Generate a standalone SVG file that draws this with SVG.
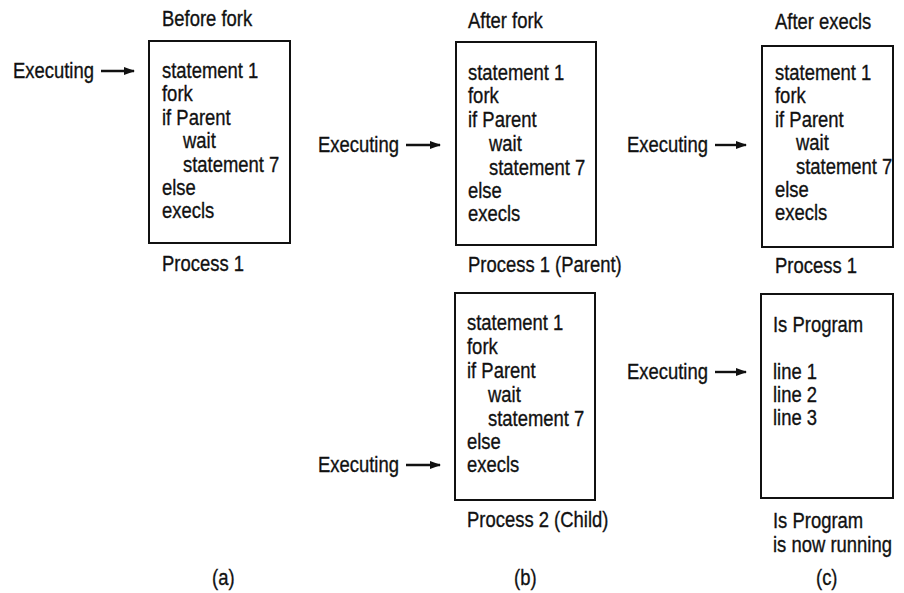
<svg xmlns="http://www.w3.org/2000/svg" width="904" height="593" viewBox="0 0 904 593">
<defs>
<style>
text{font-family:"Liberation Sans",Arial,sans-serif;font-size:22.5px;fill:#111;stroke:#111;stroke-width:0.35px;}
.box{fill:#fff;stroke:#111;stroke-width:2;}
.arr{stroke:#111;stroke-width:2.4;fill:none;}
</style>
<marker id="ah" viewBox="0 0 11 8" refX="10" refY="4" markerWidth="11" markerHeight="8" markerUnits="userSpaceOnUse" orient="auto">
<path d="M0,0 L11,4 L0,8 Z" fill="#111"/>
</marker>
</defs>
<rect width="904" height="593" fill="#fff"/>

<g id="proc-a">
<text transform="translate(162 26) scale(0.82 1)">Before fork</text>
<rect class="box" x="149" y="41" width="141" height="202"/>
<text transform="translate(162 78) scale(0.82 1)">statement 1</text>
<text transform="translate(162 101) scale(0.82 1)">fork</text>
<text transform="translate(162 125) scale(0.82 1)">if Parent</text>
<text transform="translate(183 148) scale(0.82 1)">wait</text>
<text transform="translate(183 172) scale(0.82 1)">statement 7</text>
<text transform="translate(162 195) scale(0.82 1)">else</text>
<text transform="translate(162 218) scale(0.82 1)">execls</text>
<text transform="translate(162 271) scale(0.82 1)">Process 1</text>
</g>

<g id="proc-b1">
<text transform="translate(468 28) scale(0.82 1)">After fork</text>
<rect class="box" x="456" y="42" width="140" height="203"/>
<text transform="translate(468 80) scale(0.82 1)">statement 1</text>
<text transform="translate(468 103) scale(0.82 1)">fork</text>
<text transform="translate(468 127) scale(0.82 1)">if Parent</text>
<text transform="translate(489 151) scale(0.82 1)">wait</text>
<text transform="translate(489 175) scale(0.82 1)">statement 7</text>
<text transform="translate(468 198) scale(0.82 1)">else</text>
<text transform="translate(468 221) scale(0.82 1)">execls</text>
<text transform="translate(468 272) scale(0.82 1)">Process 1 (Parent)</text>
</g>

<g id="proc-c1">
<text transform="translate(775 29) scale(0.82 1)">After execls</text>
<rect class="box" x="762" y="46" width="131" height="201"/>
<text transform="translate(775 80) scale(0.82 1)">statement 1</text>
<text transform="translate(775 103) scale(0.82 1)">fork</text>
<text transform="translate(775 127) scale(0.82 1)">if Parent</text>
<text transform="translate(796 150) scale(0.82 1)">wait</text>
<text transform="translate(796 174) scale(0.82 1)">statement 7</text>
<text transform="translate(775 197) scale(0.82 1)">else</text>
<text transform="translate(775 220) scale(0.82 1)">execls</text>
<text transform="translate(775 273) scale(0.82 1)">Process 1</text>
</g>

<g id="proc-b2">
<rect class="box" x="455" y="293" width="140" height="207"/>
<text transform="translate(467 330) scale(0.82 1)">statement 1</text>
<text transform="translate(467 354) scale(0.82 1)">fork</text>
<text transform="translate(467 378) scale(0.82 1)">if Parent</text>
<text transform="translate(488 402) scale(0.82 1)">wait</text>
<text transform="translate(488 426) scale(0.82 1)">statement 7</text>
<text transform="translate(467 449) scale(0.82 1)">else</text>
<text transform="translate(467 472) scale(0.82 1)">execls</text>
<text transform="translate(467 527) scale(0.82 1)">Process 2  (Child)</text>
</g>

<g id="proc-c2">
<rect class="box" x="761" y="294" width="132" height="204"/>
<text transform="translate(773 332) scale(0.82 1)">Is Program</text>
<text transform="translate(773 379) scale(0.82 1)">line 1</text>
<text transform="translate(773 402) scale(0.82 1)">line 2</text>
<text transform="translate(773 425) scale(0.82 1)">line 3</text>
<text transform="translate(773 528) scale(0.82 1)">Is Program</text>
<text transform="translate(773 552) scale(0.82 1)">is now running</text>
</g>

<g id="labels">
<text transform="translate(212 585) scale(0.82 1)">(a)</text>
<text transform="translate(514 585) scale(0.82 1)">(b)</text>
<text transform="translate(816 585) scale(0.82 1)">(c)</text>
<text transform="translate(13 78) scale(0.82 1)">Executing</text>
<text transform="translate(318 152) scale(0.82 1)">Executing</text>
<text transform="translate(627 152) scale(0.82 1)">Executing</text>
<text transform="translate(318 472) scale(0.82 1)">Executing</text>
<text transform="translate(627 379) scale(0.82 1)">Executing</text>
</g>

<g id="connectors">
<line class="arr" x1="101" y1="71" x2="134" y2="71" marker-end="url(#ah)"/>
<line class="arr" x1="406" y1="145" x2="440" y2="145" marker-end="url(#ah)"/>
<line class="arr" x1="715" y1="145" x2="746" y2="145" marker-end="url(#ah)"/>
<line class="arr" x1="406" y1="465" x2="440" y2="465" marker-end="url(#ah)"/>
<line class="arr" x1="715" y1="372" x2="746" y2="372" marker-end="url(#ah)"/>
</g>
</svg>
